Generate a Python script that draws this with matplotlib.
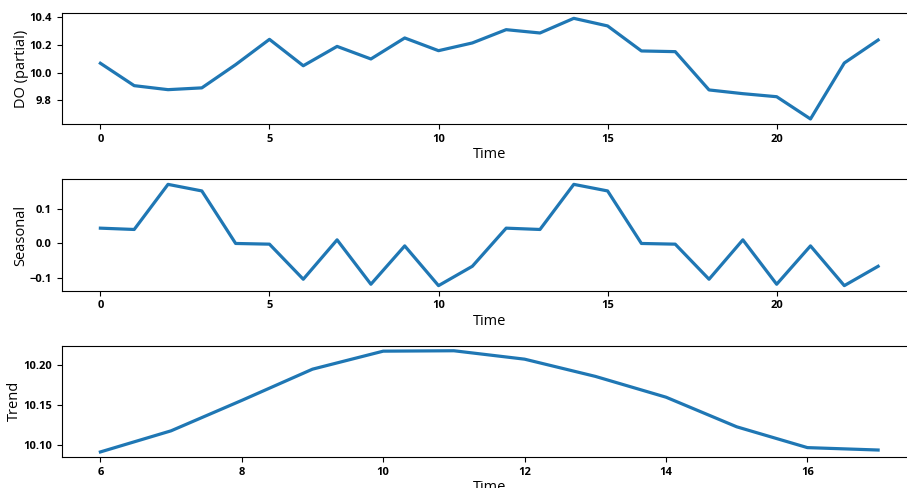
import matplotlib
matplotlib.use("Agg")
import matplotlib.pyplot as plt
from matplotlib.ticker import MultipleLocator, FormatStrFormatter

# dissolved oxygen series and its decomposition
time = list(range(24))
do_partial = [10.068, 9.906, 9.877, 9.890, 10.058, 10.241, 10.050, 10.190, 10.099, 10.251,
              10.159, 10.215, 10.311, 10.287, 10.393, 10.338, 10.157, 10.152, 9.875, 9.848,
              9.826, 9.665, 10.070, 10.236]
seasonal = [0.0443, 0.0405, 0.171, 0.152, 0.0, -0.002, -0.1035, 0.0105, -0.118, -0.007,
            -0.122, -0.066, 0.0443, 0.0405, 0.171, 0.152, 0.0, -0.002, -0.1035, 0.0105,
            -0.118, -0.007, -0.122, -0.066]
trend_time = list(range(6, 18))
trend = [10.0916, 10.118, 10.156, 10.195, 10.2175, 10.218, 10.2075, 10.186, 10.160,
         10.123, 10.097, 10.094]

plt.rcParams['font.family'] = ['Open Sans', 'DejaVu Sans']
plt.rcParams['font.weight'] = 'bold'
plt.rcParams['axes.unicode_minus'] = True

W, H = 907, 488
fig = plt.figure(figsize=(W / 100, H / 100), dpi=100)

def box(top, bottom, left=61.5, right=917):
    return [left / W, 1 - bottom / H, (right - left) / W, (bottom - top) / H]

ax1 = fig.add_axes(box(13.3, 124))
ax2 = fig.add_axes(box(179.3, 290.7))
ax3 = fig.add_axes(box(345.7, 457))

line_kw = dict(color='#1f77b4', lw=2.3)
ax1.plot(time, do_partial, **line_kw)
ax2.plot(time, seasonal, **line_kw)
ax3.plot(trend_time, trend, **line_kw)

ax1.yaxis.set_major_locator(MultipleLocator(0.2))
ax1.yaxis.set_major_formatter(FormatStrFormatter('%.1f'))
ax2.yaxis.set_major_locator(MultipleLocator(0.1))
ax3.yaxis.set_major_locator(MultipleLocator(0.05))
ax3.yaxis.set_major_formatter(FormatStrFormatter('%.2f'))

lab_kw = dict(fontsize=10.5, fontweight='normal', labelpad=0.5)
ax1.set_ylabel('DO (partial)', **lab_kw)
ax2.set_ylabel('Seasonal', **lab_kw)
ax3.set_ylabel('Trend', **lab_kw)

for ax in (ax1, ax2, ax3):
    ax.set_xlabel('Time', fontsize=10.5, fontweight='normal', labelpad=1.5)
    ax.tick_params(labelsize=8)

fig.savefig('out.png', dpi=100)
